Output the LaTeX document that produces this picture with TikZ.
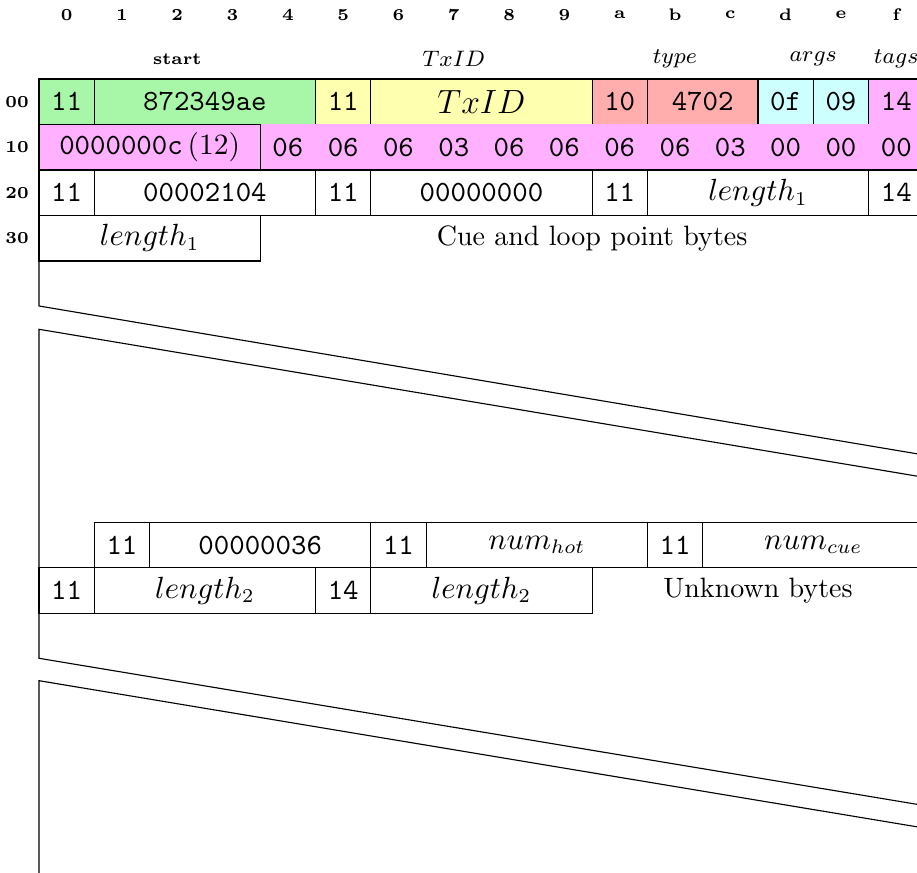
\documentclass[tikz,border=0pt]{standalone}
\usetikzlibrary{positioning}

\definecolor{startgreen}{RGB}{168,246,168}
\definecolor{txidyellow}{RGB}{255,255,176}
\definecolor{typered}{RGB}{255,173,173}
\definecolor{argscyan}{RGB}{206,255,255}
\definecolor{tagspink}{RGB}{255,176,255}

\tikzstyle{cell} = [rectangle, minimum height=16.25pt, inner sep=0pt, outer sep=0pt, text centered, draw=black, font=\fontsize{10.5}{12}\selectfont\ttfamily]
\tikzstyle{onebyte} = [cell, minimum width=19.75pt]
\tikzstyle{twobytes} = [cell, minimum width=39.5pt]
\tikzstyle{fourbytes} = [cell, minimum width=79pt]
\tikzstyle{spare} = [rectangle, minimum height=16.25pt, inner sep=0pt, outer sep=0pt, text centered]
\tikzstyle{offset} = [font=\fontsize{6}{7}\selectfont\bfseries]
\tikzstyle{fieldname} = [font=\footnotesize]

\begin{document}
\begin{tikzpicture}[x=0.3571pt, y=-0.3571pt, node distance=19.75pt]
    \useasboundingbox (0,0) rectangle (917,873);

    \node (b0)[offset] at (66.65,15) {0};
    \node (b1)[offset, right of=b0] {1};
    \node (b2)[offset, right of=b1] {2};
    \node (b3)[offset, right of=b2] {3};
    \node (b4)[offset, right of=b3] {4};
    \node (b5)[offset, right of=b4] {5};
    \node (b6)[offset, right of=b5] {6};
    \node (b7)[offset, right of=b6] {7};
    \node (b8)[offset, right of=b7] {8};
    \node (b9)[offset, right of=b8] {9};
    \node (ba)[offset, right of=b9] {a};
    \node (bb)[offset, right of=ba] {b};
    \node (bc)[offset, right of=bb] {c};
    \node (bd)[offset, right of=bc] {d};
    \node (be)[offset, right of=bd] {e};
    \node (bf)[offset, right of=be] {f};

    \node (nstart)[offset] at (177.25,59) {start};
    \node (ntxid)[fieldname] at (453.75,59) {$TxID$};
    \node (ntype)[fieldname] at (674.95,59) {$type$};
    \node (nargs)[fieldname] at (813.2,59) {$args$};
    \node (ntags)[fieldname] at (896.15,59) {$tags$};

    % header words
    \node (s11)[onebyte, fill=startgreen, anchor=north west] at (39,79) {11};
    \node (start)[fourbytes, fill=startgreen, right=0pt of s11] {872349ae};
    \node (t11)[onebyte, fill=txidyellow, right=0pt of start] {11};
    \node (txid)[fourbytes, fill=txidyellow, right=0pt of t11] {\large $TxID$};
    \node (ty10)[onebyte, fill=typered, right=0pt of txid] {10};
    \node (type)[twobytes, fill=typered, right=0pt of ty10] {4702};
    \node (arg1)[onebyte, fill=argscyan, right=0pt of type] {0f};
    \node (arg2)[onebyte, fill=argscyan, right=0pt of arg1] {09};
    \node (tags)[onebyte, fill=tagspink, right=0pt of arg2] {14};

    \node (tagcount)[fourbytes, fill=tagspink, below right=0pt and 0pt of s11.south west] {0000000c\,{\rmfamily (12)}};
    \node (tg4)[onebyte, fill=tagspink, draw=none, right=0pt of tagcount] {06};
    \node (tg5)[onebyte, fill=tagspink, draw=none, right=0pt of tg4] {06};
    \node (tg6)[onebyte, fill=tagspink, draw=none, right=0pt of tg5] {06};
    \node (tg7)[onebyte, fill=tagspink, draw=none, right=0pt of tg6] {03};
    \node (tg8)[onebyte, fill=tagspink, draw=none, right=0pt of tg7] {06};
    \node (tg9)[onebyte, fill=tagspink, draw=none, right=0pt of tg8] {06};
    \node (tga)[onebyte, fill=tagspink, draw=none, right=0pt of tg9] {06};
    \node (tgb)[onebyte, fill=tagspink, draw=none, right=0pt of tga] {06};
    \node (tgc)[onebyte, fill=tagspink, draw=none, right=0pt of tgb] {03};
    \node (tgd)[onebyte, fill=tagspink, draw=none, right=0pt of tgc] {00};
    \node (tge)[onebyte, fill=tagspink, draw=none, right=0pt of tgd] {00};
    \node (tgf)[onebyte, fill=tagspink, draw=none, right=0pt of tge] {00};
    \draw (tagcount.north east) -- (tagcount.south east);

    \node (c11)[onebyte, below right=0pt and 0pt of tagcount.south west] {11};
    \node (cue)[fourbytes, right=0pt of c11] {00002104};
    \node (c11b)[onebyte, right=0pt of cue] {11};
    \node (zero)[fourbytes, right=0pt of c11b] {00000000};
    \node (c11c)[onebyte, right=0pt of zero] {11};
    \node (len1)[fourbytes, right=0pt of c11c] {$length_1$};
    \node (c14)[onebyte, right=0pt of len1] {14};

    \node (len1b)[fourbytes, below right=0pt and 0pt of c11.south west] {$length_1$};
    \node (cuebytes)[spare, minimum width=237pt, right=0pt of len1b] {Cue and loop point bytes};

    \node (r00)[offset] at (17,101.7) {00};
    \node (r10)[offset] at (r00 |- tagcount) {10};
    \node (r20)[offset] at (r00 |- c11) {20};
    \node (r30)[offset] at (r00 |- len1b) {30};

    % first skipped block
    \coordinate (gap1a) at (39,306);
    \coordinate (gap1b) at (924,455);
    \coordinate (gap1c) at (39,329.3);
    \coordinate (gap1d) at (924,477.3);
    \draw (len1b.south west) -- (gap1a) -- (gap1b) -- (c14.south east);

    \node (h11)[onebyte, anchor=north west] at (94.3,522.3) {11};
    \node (hot)[fourbytes, right=0pt of h11] {00000036};
    \node (h11b)[onebyte, right=0pt of hot] {11};
    \node (numhot)[fourbytes, right=0pt of h11b] {$num_{hot}$};
    \node (h11c)[onebyte, right=0pt of numhot] {11};
    \node (numcue)[fourbytes, right=0pt of h11c] {$num_{cue}$};

    \node (l11)[onebyte, anchor=north west] at (h11.south west -| gap1c) {11};
    \node (len2)[fourbytes, right=0pt of l11] {$length_2$};
    \node (l14)[onebyte, right=0pt of len2] {14};
    \node (len2b)[fourbytes, right=0pt of l14] {$length_2$};
    \node (unknown)[spare, minimum width=118.5pt, right=0pt of len2b] {Unknown bytes};

    \draw (numcue.north east) -- (gap1d) -- (gap1c) -- (l11.north west);

    % second skipped block
    \coordinate (gap2a) at (39,658.3);
    \coordinate (gap2b) at (924,805.5);
    \coordinate (gap2c) at (39,680.7);
    \coordinate (gap2d) at (924,828);
    \coordinate (tail) at (39,880);
    \draw (l11.south west) -- (gap2a) -- (gap2b) -- (numcue.south east);
    \draw (gap2d) -- (gap2c) -- (tail);
\end{tikzpicture}
\end{document}
